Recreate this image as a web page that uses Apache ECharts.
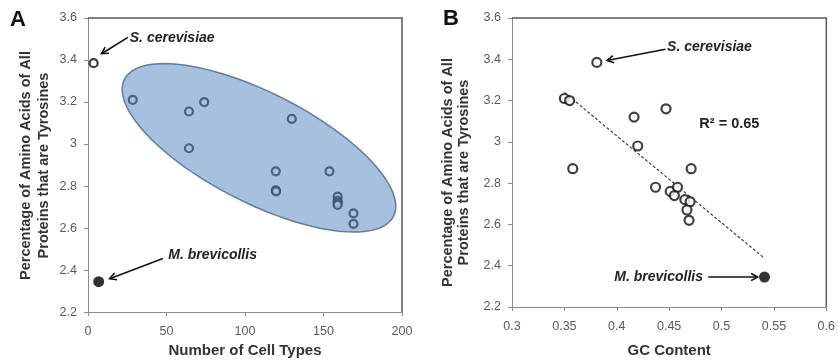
<!DOCTYPE html>
<html>
<head>
<meta charset="utf-8">
<script src="https://cdn.jsdelivr.net/npm/echarts@6/dist/echarts.min.js"></script>
<style>
  html, body { margin: 0; padding: 0; background: #fff; }
  #chart { width: 838px; height: 363px; }
</style>
</head>
<body>
<div id="chart"></div>
<script>
// panel A: number of cell types vs % tyrosine
const cellTypes = [3.6, 28.5, 64.3, 74, 64.3, 129.8, 119.6, 119.6, 119.8, 153.8, 159, 159, 159, 159, 169.1, 169.1];
const tyrosineA = [3.385, 3.21, 3.155, 3.2, 2.98, 3.12, 2.87, 2.78, 2.775, 2.87, 2.75, 2.73, 2.72, 2.71, 2.67, 2.62];
const brevicollisA = [6.8, 2.345];

// panel B: GC content vs % tyrosine
const gcContent = [0.381, 0.35, 0.355, 0.4165, 0.447, 0.42, 0.358, 0.471, 0.437, 0.451, 0.458, 0.455, 0.465, 0.47, 0.467, 0.469];
const tyrosineB = [3.385, 3.21, 3.2, 3.12, 3.16, 2.98, 2.87, 2.87, 2.78, 2.76, 2.78, 2.74, 2.72, 2.71, 2.67, 2.62];
const brevicollisB = [0.541, 2.345];

// axes
const yRange = [2.2, 3.6], yStep = 0.2;
const cellRange = [0, 200], cellStep = 50;
const gcRange = [0.3, 0.6], gcStep = 0.05;
const rSquaredLabel = 'R\u00b2 = 0.65';

const font = '"Liberation Sans", Arial, sans-serif';
const chart = echarts.init(document.getElementById('chart'));

// least squares trend line for panel B (all points)
const allX = gcContent.concat([brevicollisB[0]]);
const allY = tyrosineB.concat([brevicollisB[1]]);
const mx = allX.reduce((a, b) => a + b, 0) / allX.length;
const my = allY.reduce((a, b) => a + b, 0) / allY.length;
let sxy = 0, sxx = 0;
allX.forEach((x, i) => { sxy += (x - mx) * (allY[i] - my); sxx += (x - mx) * (x - mx); });
const slope = sxy / sxx;
const x0 = Math.min(...allX), x1 = Math.max(...allX);
const trend = [[x0, my + slope * (x0 - mx)], [x1, my + slope * (x1 - mx)]];

const axisGray = '#8c8c8c';
const yAxis = (g) => ({
  gridIndex: g, type: 'value', min: yRange[0], max: yRange[1], interval: yStep,
  axisLine: { show: true, onZero: false, lineStyle: { color: axisGray } },
  axisTick: { show: true, length: 4, lineStyle: { color: axisGray } },
  axisLabel: { margin: 11, color: '#595959', fontSize: 12.5, fontFamily: font },
  splitLine: { show: false }
});
const xAxis = (g, range, step, name, gap) => ({
  gridIndex: g, type: 'value', min: range[0], max: range[1], interval: step,
  name: name, nameLocation: 'middle', nameGap: gap,
  nameTextStyle: { fontSize: 15, fontWeight: 'bold', color: '#333', fontFamily: font },
  axisLine: { show: true, onZero: false, lineStyle: { color: axisGray } },
  axisTick: { show: true, length: 4, lineStyle: { color: axisGray } },
  axisLabel: { margin: 13, color: '#595959', fontSize: 12.5, fontFamily: font },
  splitLine: { show: false }
});

const ring = { color: '#fff', borderColor: '#111', borderWidth: 2.2 };

chart.setOption({
  animation: false,
  grid: [
    { left: 88, top: 18, width: 314, height: 299 },
    { left: 512, top: 18, width: 317, height: 295 }
  ],
  xAxis: [
    xAxis(0, cellRange, cellStep, 'Number of Cell Types', 24),
    xAxis(1, gcRange, gcStep, 'GC Content', 36)
  ],
  yAxis: [yAxis(0), yAxis(1)],
  series: [
    {
      type: 'scatter', xAxisIndex: 0, yAxisIndex: 0, symbolSize: 8, z: 3,
      data: cellTypes.map((x, i) => [x, tyrosineA[i]]), itemStyle: ring
    },
    {
      type: 'scatter', xAxisIndex: 0, yAxisIndex: 0, symbolSize: 11, z: 3,
      data: [brevicollisA], itemStyle: { color: '#000' }
    },
    {
      type: 'line', xAxisIndex: 1, yAxisIndex: 1, data: trend, symbol: 'none', z: 2,
      lineStyle: { color: '#333', width: 1.1, type: [3, 2] }
    },
    {
      type: 'scatter', xAxisIndex: 1, yAxisIndex: 1, symbolSize: 9, z: 3,
      data: gcContent.map((x, i) => [x, tyrosineB[i]]), itemStyle: ring
    },
    {
      type: 'scatter', xAxisIndex: 1, yAxisIndex: 1, symbolSize: 11, z: 3,
      data: [brevicollisB], itemStyle: { color: '#000' }
    }
  ]
});

// annotations (positions in data units of each panel)
const notesA = [
  { text: 'S. cerevisiae', at: [26.6, 3.503], from: [25.4, 3.508], to: [8.6, 3.43] },
  { text: 'M. brevicollis', at: [51.1, 2.47], from: [47.7, 2.455], to: [13.8, 2.359] }
];
const notesB = [
  { text: 'S. cerevisiae', at: [0.448, 3.457], from: [0.4464, 3.449], to: [0.3907, 3.394] },
  { text: 'M. brevicollis', at: [0.3976, 2.343], from: [0.4873, 2.345], to: [0.5345, 2.345] }
];
const rSquaredAt = [0.4788, 3.085];
// shaded ellipse around panel A cluster: centre in data units, radii/tilt in px
const ellipseA = { center: [108.9, 2.982], rx: 151, ry: 55, tilt: 27 };

const els = [];
function arrow(p, q) {
  els.push({ type: 'line', z: 20, shape: { x1: p[0], y1: p[1], x2: q[0], y2: q[1] },
    style: { stroke: '#111', lineWidth: 1.6 } });
  const ang = Math.atan2(q[1] - p[1], q[0] - p[0]);
  const len = 7.5, spread = 0.5;
  els.push({ type: 'polyline', z: 20, shape: { points: [
    [q[0] - len * Math.cos(ang - spread), q[1] - len * Math.sin(ang - spread)],
    [q[0], q[1]],
    [q[0] - len * Math.cos(ang + spread), q[1] - len * Math.sin(ang + spread)]
  ] }, style: { stroke: '#111', lineWidth: 1.6, fill: null } });
}
function note(n, g) {
  const at = chart.convertToPixel({ gridIndex: g }, n.at);
  els.push({ type: 'text', z: 20, x: at[0], y: at[1], style: {
    text: n.text, font: 'italic bold 14px ' + font, fill: '#222',
    textAlign: 'left', textVerticalAlign: 'middle' } });
  arrow(chart.convertToPixel({ gridIndex: g }, n.from), chart.convertToPixel({ gridIndex: g }, n.to));
}
notesA.forEach(n => note(n, 0));
notesB.forEach(n => note(n, 1));

const rp = chart.convertToPixel({ gridIndex: 1 }, rSquaredAt);
els.push({ type: 'text', z: 20, x: rp[0], y: rp[1], style: {
  text: rSquaredLabel, font: 'bold 14.5px ' + font, fill: '#222', textAlign: 'left', textVerticalAlign: 'middle' } });

// ellipse
const ec = chart.convertToPixel({ gridIndex: 0 }, ellipseA.center);
const th = ellipseA.tilt * Math.PI / 180;
const pts = [];
for (let i = 0; i < 90; i++) {
  const t = i / 90 * Math.PI * 2;
  const ex = ellipseA.rx * Math.cos(t), ey = ellipseA.ry * Math.sin(t);
  pts.push([ec[0] + ex * Math.cos(th) - ey * Math.sin(th), ec[1] + ex * Math.sin(th) + ey * Math.cos(th)]);
}
els.push({ type: 'polygon', z: 10, shape: { points: pts },
  style: { fill: 'rgba(79,129,189,0.5)', stroke: 'rgba(56,93,138,0.75)', lineWidth: 1.5 } });

// top/right frame of both plot areas
[0, 1].forEach(g => {
  const xr = g === 0 ? cellRange : gcRange;
  const tl = chart.convertToPixel({ gridIndex: g }, [xr[0], yRange[1]]);
  const br = chart.convertToPixel({ gridIndex: g }, [xr[1], yRange[0]]);
  els.push({ type: 'polyline', z: 5, shape: { points: [[tl[0], tl[1]], [br[0], tl[1]], [br[0], br[1]]] },
    style: { stroke: '#595959', lineWidth: 1.5, fill: null } });
});

// panel letters and y titles
els.push({ type: 'text', x: 10, y: 9, style: { text: 'A', font: 'bold 22px ' + font, fill: '#111' } });
els.push({ type: 'text', x: 443, y: 8, style: { text: 'B', font: 'bold 22px ' + font, fill: '#111' } });
const yTitle = ['Percentage of Amino Acids of All', 'Proteins that are Tyrosines'];
[[25.5, 44, 165.5], [448, 464, 172.5]].forEach(pos => {
  yTitle.forEach((t, i) => {
    els.push({ type: 'text', x: pos[i], y: pos[2], rotation: Math.PI / 2, style: {
      text: t, font: 'bold 14.5px ' + font, fill: '#333', textAlign: 'center', textVerticalAlign: 'middle' } });
  });
});

chart.setOption({ graphic: { elements: els } });
</script>
</body>
</html>
